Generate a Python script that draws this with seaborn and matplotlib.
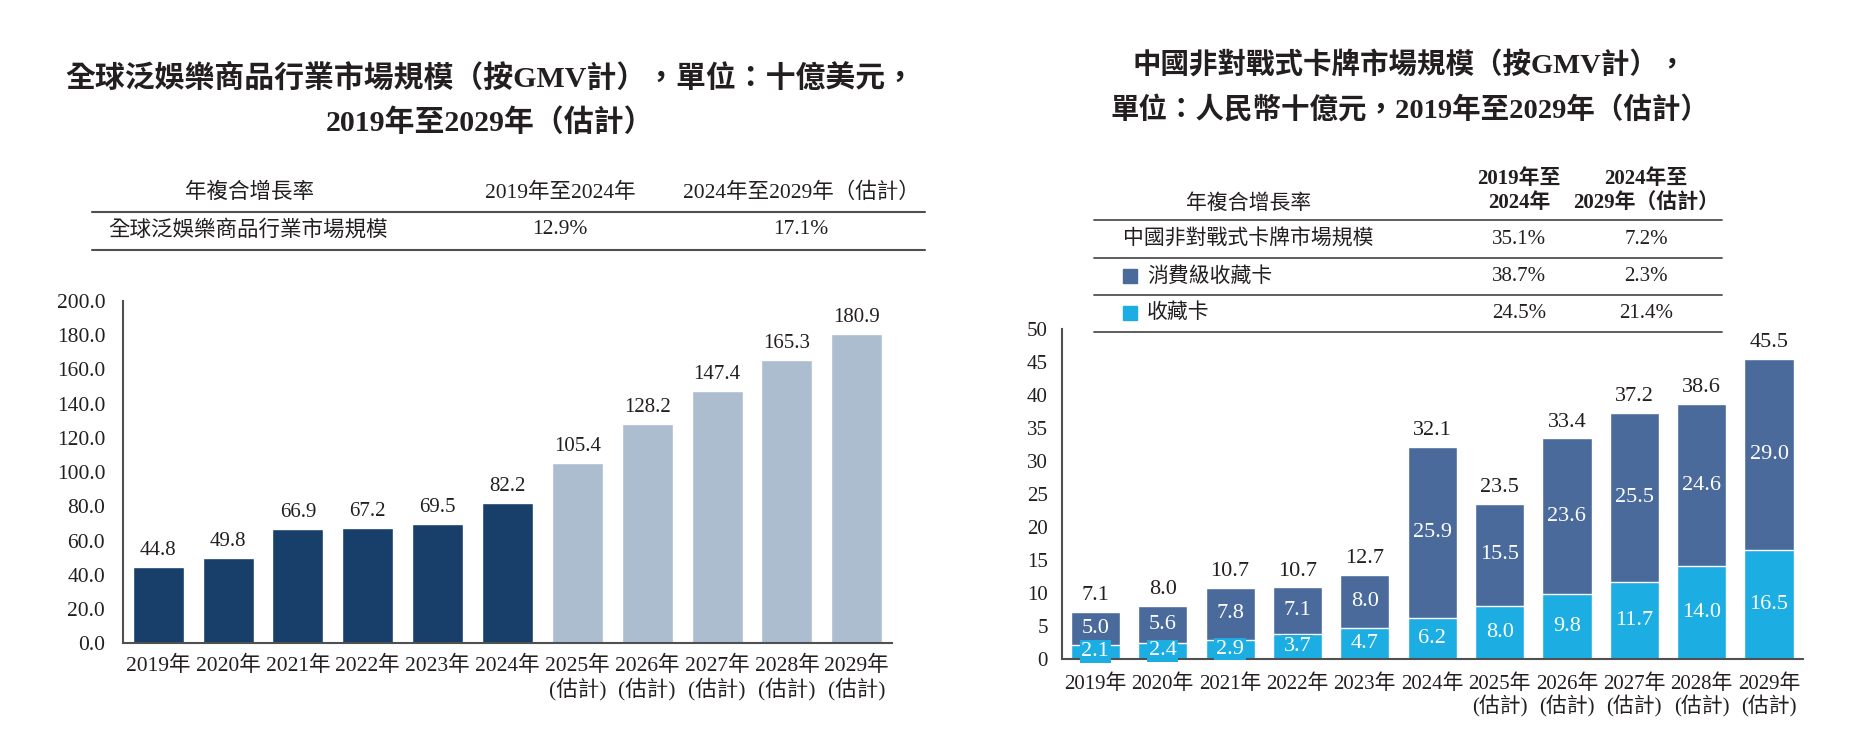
import numpy as np
import pandas as pd
import matplotlib
matplotlib.use("Agg")
import matplotlib.pyplot as plt
from matplotlib.lines import Line2D
from matplotlib.patches import Rectangle
import seaborn as sns

# x categories (shared by both charts)
years = ['2019年', '2020年', '2021年', '2022年', '2023年', '2024年',
         '2025年\n(估計)', '2026年\n(估計)', '2027年\n(估計)',
         '2028年\n(估計)', '2029年\n(估計)']
period = ['實際', '實際', '實際', '實際', '實際', '實際',
          '估計', '估計', '估計', '估計', '估計']

# left: global pan-entertainment merchandise, USD bn
global_gmv = [44.8, 49.8, 66.9, 67.2, 69.5, 82.2, 105.4, 128.2, 147.4, 165.3, 180.9]

# right: China non-battle trading cards, RMB bn
collect_cards = [2.1, 2.4, 2.9, 3.7, 4.7, 6.2, 8.0, 9.8, 11.7, 14.0, 16.5]
consumer_cards = [5.0, 5.6, 7.8, 7.1, 8.0, 25.9, 15.5, 23.6, 25.5, 24.6, 29.0]
card_totals = [7.1, 8.0, 10.7, 10.7, 12.7, 32.1, 23.5, 33.4, 37.2, 38.6, 45.5]

# CAGR tables
left_cagr_head = ['年複合增長率', '2019年至2024年', '2024年至2029年（估計）']
left_cagr_rows = [['全球泛娛樂商品行業市場規模', '12.9%', '17.1%']]
right_cagr_head = ['年複合增長率', '2019年至\n2024年', '2024年至\n2029年（估計）']
right_cagr_names = ['中國非對戰式卡牌市場規模', '消費級收藏卡', '收藏卡']
right_cagr_1924 = ['35.1%', '38.7%', '24.5%']
right_cagr_2429 = ['7.2%', '2.3%', '21.4%']

NAVY = '#173f69'
PALE = '#adbdd0'
SLATE = '#4a6a9b'
CYAN = '#1caee3'
INK = '#231f20'
GREY = '#505050'

sns.set_theme(style='white')
plt.rcParams['font.family'] = ['Liberation Serif', 'Noto Sans CJK TC']
plt.rcParams['text.color'] = INK
plt.rcParams['axes.labelcolor'] = INK
plt.rcParams['xtick.color'] = INK
plt.rcParams['ytick.color'] = INK

W, H = 1860, 745
fig = plt.figure(figsize=(W / 100, H / 100), dpi=100)


def fx(px):
    return px / W


def fy(py):
    return 1 - py / H


def hline(x0, x1, y, lw=1.5):
    fig.add_artist(Line2D([fx(x0), fx(x1)], [fy(y), fy(y)], color=GREY, lw=lw))


def style_axes(ax, size, xpad):
    sns.despine(ax=ax)
    for s in ['left', 'bottom']:
        ax.spines[s].set_color(GREY)
        ax.spines[s].set_linewidth(1.5)
    ax.tick_params(axis='y', length=8, width=1.2, color=GREY, labelsize=size, pad=5)
    ax.tick_params(axis='x', length=0, labelsize=size, pad=xpad)
    ax.set_xlabel('')
    ax.set_ylabel('')
    ax.set_xlim(-0.5, 10.5)
    for lab in ax.get_xticklabels():
        lab.set_linespacing(1.1)


# ---------------- left chart ----------------
ax1 = fig.add_axes([fx(123.3), fy(643.3), fx(891.7 - 123.3), (643.3 - 301) / H])
df1 = pd.DataFrame({'year': years, 'gmv': global_gmv, 'period': period})
sns.barplot(data=df1, x='year', y='gmv', hue='period',
            palette={'實際': NAVY, '估計': PALE}, saturation=1,
            width=0.73, dodge=False, legend=False, ax=ax1)
for c in ax1.containers:
    ax1.bar_label(c, fmt='%.1f', padding=5, fontsize=15, color=INK)
ax1.set_ylim(0, 200)
ax1.set_yticks(np.arange(0, 201, 20))
ax1.set_yticklabels([f'{v:.1f}' for v in np.arange(0, 201, 20)])
style_axes(ax1, 15.5, 9)

fig.text(fx(490), fy(78), '全球泛娛樂商品行業市場規模（按GMV計），單位：十億美元，',
         ha='center', va='center', fontsize=21.5, fontweight='bold')
fig.text(fx(490), fy(123), '2019年至2029年（估計）',
         ha='center', va='center', fontsize=21.5, fontweight='bold')

# left CAGR table
lcols = [249, 560, 801]
fig.text(fx(lcols[0]), fy(193), left_cagr_head[0], ha='center', va='center', fontsize=15.5)
fig.text(fx(lcols[1]), fy(193), left_cagr_head[1], ha='center', va='center', fontsize=15.5)
fig.text(fx(lcols[2]), fy(193), left_cagr_head[2], ha='center', va='center', fontsize=15.5)
hline(92, 925, 212)
for row in left_cagr_rows:
    fig.text(fx(108), fy(230), row[0], ha='left', va='center', fontsize=15.5)
    fig.text(fx(lcols[1]), fy(230), row[1], ha='center', va='center', fontsize=15.5)
    fig.text(fx(lcols[2]), fy(230), row[2], ha='center', va='center', fontsize=15.5)
hline(92, 925, 250)

# ---------------- right chart ----------------
ax2 = fig.add_axes([fx(1061.7), fy(658.7), fx(1802.7 - 1061.7), (658.7 - 329) / H])
df2 = pd.DataFrame({'year': years, 'collect': collect_cards, 'consumer': consumer_cards})
df2['stack'] = df2['collect'] + df2['consumer']
sns.barplot(data=df2, x='year', y='stack', color=SLATE, saturation=1, width=0.73, ax=ax2)
sns.barplot(data=df2, x='year', y='collect', color=CYAN, saturation=1, width=0.73, ax=ax2)
ax2.bar_label(ax2.containers[0], labels=[f'{v:.1f}' for v in card_totals],
              padding=5, fontsize=16, color=INK)
ax2.bar_label(ax2.containers[1], labels=[f'{v:.1f}' for v in collect_cards],
              label_type='center', fontsize=16, color='white',
              bbox=dict(boxstyle='square,pad=0.08', fc=CYAN, ec='none'))
for i, (c, d) in enumerate(zip(collect_cards, consumer_cards)):
    ax2.text(i, c + d / 2, f'{d:.1f}', ha='center', va='center', fontsize=16, color='white')
ax2.set_ylim(0, 50)
ax2.set_yticks(np.arange(0, 51, 5))
style_axes(ax2, 15, 11)
ax2.tick_params(axis='y', pad=2)

fig.text(fx(1410), fy(65), '中國非對戰式卡牌市場規模（按GMV計），',
         ha='center', va='center', fontsize=20.5, fontweight='bold')
fig.text(fx(1410), fy(110.5), '單位：人民幣十億元，2019年至2029年（估計）',
         ha='center', va='center', fontsize=20.5, fontweight='bold')

# right CAGR table
rcols = [1519, 1646]
fig.text(fx(1249), fy(204), right_cagr_head[0], ha='center', va='center', fontsize=15)
fig.text(fx(rcols[0]), fy(191), right_cagr_head[1], ha='center', va='center',
         fontsize=15, fontweight='bold', linespacing=1.3)
fig.text(fx(rcols[1]), fy(191), right_cagr_head[2], ha='center', va='center',
         fontsize=15, fontweight='bold', linespacing=1.3)
row_y = [240, 276.5, 313.5]
line_y = [220, 257.5, 295, 331.7]
for y in line_y:
    hline(1094, 1722, y, lw=1.3)
square_colors = [None, SLATE, CYAN]
for name, a, b, y, sq in zip(right_cagr_names, right_cagr_1924, right_cagr_2429, row_y, square_colors):
    x_text = 1123
    if sq is not None:
        fig.add_artist(Rectangle((fx(1122.5), fy(y + 7)), fx(14.5), 14 / H, color=sq))
        x_text = 1147
    fig.text(fx(x_text), fy(y), name, ha='left', va='center', fontsize=15)
    fig.text(fx(rcols[0]), fy(y), a, ha='center', va='center', fontsize=15)
    fig.text(fx(rcols[1]), fy(y), b, ha='center', va='center', fontsize=15)

fig.savefig('out.png', dpi=100)
